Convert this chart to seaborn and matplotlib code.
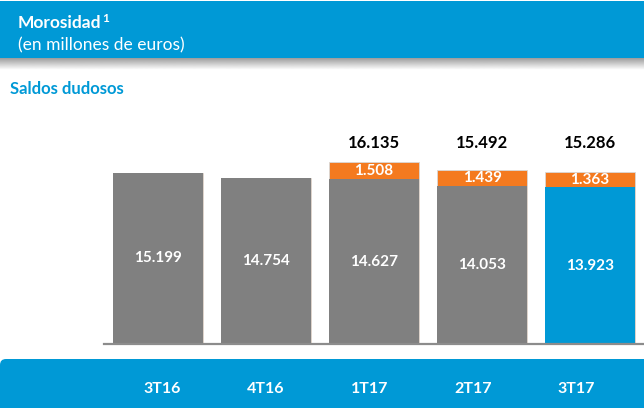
import matplotlib
matplotlib.use("Agg")
import matplotlib.pyplot as plt
from matplotlib.patches import Rectangle, FancyBboxPatch
import numpy as np
import pandas as pd
import seaborn as sns

# datos (millones de euros)
periodos = ['3T16', '4T16', '1T17', '2T17', '3T17']
saldos = [15199, 14754, 14627, 14053, 13923]
adicional = [0, 0, 1508, 1439, 1363]
totales = [16135, 15492, 15286]

AZUL = '#0099D6'
GRIS = '#808080'
NARANJA = '#F47A1F'

sns.set_theme(style='white')
plt.rcParams['font.family'] = ['Lato', 'DejaVu Sans']

df = pd.DataFrame({'periodo': periodos, 'saldos': saldos, 'adicional': adicional})
df['total'] = df['saldos'] + df['adicional']

W, H = 644, 408
fig = plt.figure(figsize=(W / 100, H / 100), dpi=100)
fig.patch.set_facecolor('white')

# barra superior azul + sombra
fig.patches.append(Rectangle((0, 1 - 58 / H), 1, 57 / H, transform=fig.transFigure,
                             facecolor=AZUL, edgecolor='none', zorder=0))
sh = fig.add_axes([0, 1 - 70 / H, 1, 12 / H])
sh.imshow(np.linspace(0.62, 1.0, 20).reshape(-1, 1), cmap='gray', vmin=0, vmax=1,
          aspect='auto', extent=[0, 1, 0, 1])
sh.axis('off')

tit = fig.text(18 / W, 1 - 23 / H, 'Morosidad', color='white', fontsize=12.5,
               fontweight='bold', va='center')
fig.canvas.draw()
bb = tit.get_window_extent()
# superindice
fig.text((bb.x1 + 0.5) / W, (bb.y1 + 2) / H, '1', color='white', fontsize=8.5,
         fontweight='bold', va='top', ha='left')
fig.text(18 / W, 1 - 45 / H, '(en millones de euros)', color='white', fontsize=12.5, va='center')
fig.text(10 / W, 1 - 89 / H, 'Saldos dudosos', color=AZUL, fontsize=12, fontweight='bold', va='center')

# banda inferior azul (esquina superior izquierda redondeada)
fig.patches.append(FancyBboxPatch((0, -0.3), 7.0, 0.49 + 0.3, transform=fig.dpi_scale_trans,
                                  boxstyle='round,pad=0,rounding_size=0.06',
                                  facecolor=AZUL, edgecolor='none', zorder=0))

ax = fig.add_axes([104 / W, (H - 344) / H, 540 / W, 224 / H])
colores = [GRIS] * (len(periodos) - 1) + [AZUL]
sns.barplot(data=df, x='periodo', y='total', color=NARANJA, width=0.83, saturation=1,
            edgecolor='#D8D8D8', linewidth=0.6, ax=ax)
sns.barplot(data=df, x='periodo', y='saldos', hue='periodo', palette=colores, legend=False,
            width=0.83, saturation=1, edgecolor='none', linewidth=0, ax=ax)

ax.set_xlim(-0.5, 4.5)
ax.set_ylim(0, 19900)
ax.set_xlabel('')
ax.set_ylabel('')
ax.set_xticks([])
ax.set_yticks([])
for s in ['top', 'right', 'left']:
    ax.spines[s].set_visible(False)
ax.spines['bottom'].set_color('#8C8C8C')
ax.spines['bottom'].set_linewidth(1.6)


def fmt(v):
    return f'{v:,}'.replace(',', '.')


for i, row in df.iterrows():
    ax.text(i, row['saldos'] / 2, fmt(row['saldos']), ha='center', va='center',
            color='white', fontsize=11, fontweight='bold')
    if row['adicional'] > 0:
        ax.text(i, row['saldos'] + row['adicional'] / 2, fmt(row['adicional']),
                ha='center', va='center', color='white', fontsize=11, fontweight='bold')

y_tot = max(totales) * 1.105
for i, t in zip(range(2, 5), totales):
    ax.text(i, y_tot, fmt(t), ha='center', va='center', color='black',
            fontsize=12, fontweight='bold')

# etiquetas de periodo en la banda inferior
for i, p in enumerate(periodos):
    fig.text((162 + 103.6 * i) / W, 19 / H, p, ha='center', va='center',
             color='white', fontsize=11.5, fontweight='bold')

fig.savefig('out.png', dpi=100)
